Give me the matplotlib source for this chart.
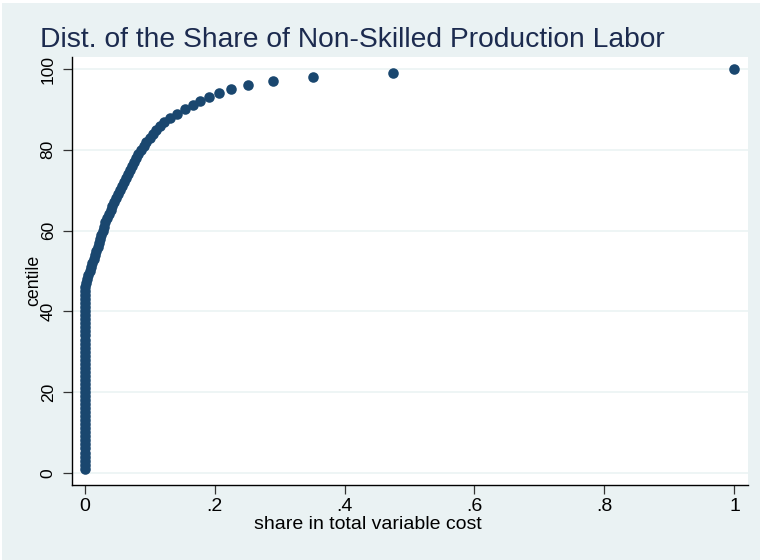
import matplotlib
matplotlib.use('Agg')
import matplotlib.pyplot as plt
from matplotlib.patches import Rectangle

# centiles 1..100 and the share at each centile
centiles = list(range(1, 101))
share = [0.0] * 46 + [
    0.002, 0.004, 0.006, 0.008, 0.010, 0.012, 0.014, 0.016, 0.018, 0.020,
    0.022, 0.024, 0.026, 0.028, 0.030, 0.032, 0.034, 0.037, 0.040, 0.043,
    0.046, 0.049, 0.052, 0.055, 0.058, 0.061, 0.064, 0.067, 0.070, 0.073,
    0.076, 0.079, 0.083, 0.087, 0.091, 0.095, 0.100, 0.105, 0.110, 0.116,
    0.123, 0.132, 0.143, 0.155, 0.1665, 0.178, 0.1915, 0.207, 0.226, 0.252,
    0.290, 0.352, 0.474, 1.0,
]
x_ticks = [0, 0.2, 0.4, 0.6, 0.8, 1.0]
x_tick_labels = ['0', '.2', '.4', '.6', '.8', '1']
y_ticks = [0, 20, 40, 60, 80, 100]

plt.rcParams['font.family'] = ['Liberation Sans', 'DejaVu Sans']

bg = '#EAF2F3'
navy = '#1a476f'

fig = plt.figure(figsize=(7.66, 5.60), dpi=100)
fig.patch.set_facecolor('white')
fig.patches.append(Rectangle((2 / 766, 0), 758 / 766, 557 / 560,
                             transform=fig.transFigure, facecolor=bg,
                             edgecolor='none', zorder=-10))

ax = fig.add_axes([72.3 / 766, 1 - 485 / 560, (748 - 72.3) / 766, (485 - 57) / 560])
ax.set_facecolor('white')

ax.plot(share, centiles, 'o', color=navy, markersize=7.6,
        markeredgewidth=0, zorder=3, clip_on=False)

ax.set_xlim(-0.0188, 1.0208)
ax.set_ylim(-3.05, 103.0)

ax.set_xticks(x_ticks)
ax.set_xticklabels(x_tick_labels)
ax.set_yticks(y_ticks)
ax.tick_params(axis='both', length=6.5, width=0.9, color='#333333',
               labelcolor='black')
ax.tick_params(axis='x', pad=3, labelsize=14)
ax.tick_params(axis='y', pad=5.5, labelsize=12.5, labelrotation=90)
for lab in ax.get_yticklabels():
    lab.set_va('center')

ax.grid(axis='y', color=bg, linewidth=1.1)
ax.set_axisbelow(True)

for side in ['top', 'right']:
    ax.spines[side].set_visible(False)
for side in ['left', 'bottom']:
    ax.spines[side].set_color('black')
    ax.spines[side].set_linewidth(1.0)

ax.set_xlabel('share in total variable cost', fontsize=14)
ax.xaxis.set_label_coords(0.4376, -0.072)
ax.set_ylabel('centile', fontsize=12.8)
ax.yaxis.set_label_coords(-0.045, 0.477)

fig.text(40 / 766, 1 - 47 / 560, 'Dist. of the Share of Non-Skilled Production Labor',
         fontsize=20.3, color='#1c2b4f', ha='left', va='baseline')

fig.savefig('out.png', dpi=100, facecolor=fig.get_facecolor())
plt.close(fig)
